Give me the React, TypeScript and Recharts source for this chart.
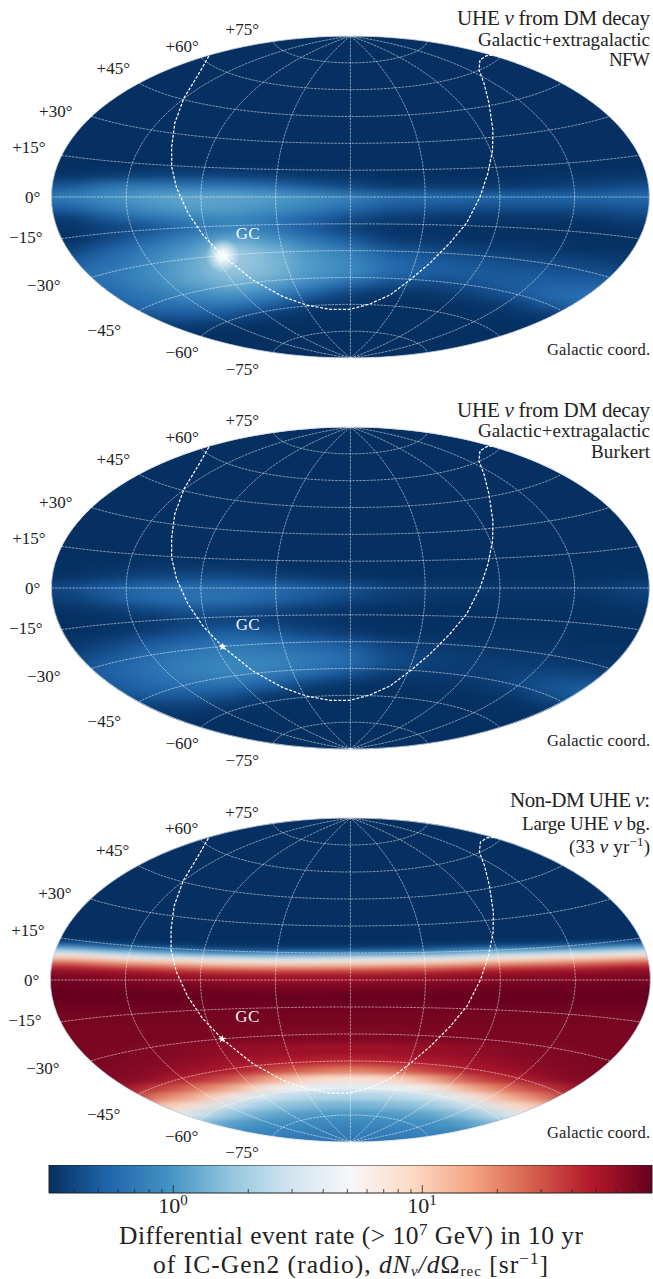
import React from 'react';
import { ScatterChart, Scatter, XAxis, YAxis, ReferenceArea } from 'recharts';

// plane coordinates are degrees of the Aitoff plane: x -180..180, y -90..90
const heatCols = [-192, -168, -144, -120, -96, -72, -48, -24, 0, 24, 48, 72, 96, 120, 144, 168, 192];

const darkRows = [12, 6, 0, -6, -12, -18, -24, -30, -36, -42, -48, -54, -60, -66, -72];

const nfwRows = [
  [.33, .33, .36, .38, .38, .38, .36, .34, .33, .32, .32, .32, .32, .33, .33, .34, .34],
  [.46, .48, .68, .72, .7, .7, .6, .48, .4, .35, .35, .34, .34, .36, .38, .42, .45],
  [.7, .8, .95, 1.12, 1.2, 1.2, 1.1, .95, .8, .62, .6, .58, .56, .56, .56, .6, .6],
  [.5, .55, .75, .98, 1.1, 1.1, .98, .78, .62, .48, .46, .44, .44, .44, .44, .47, .47],
  [.36, .36, .5, .65, .8, .85, .7, .55, .42, .36, .34, .33, .33, .33, .34, .38, .4],
  [.33, .33, .38, .45, .62, .85, .7, .5, .38, .33, .33, .32, .32, .32, .32, .33, .33],
  [.32, .32, .42, .6, .85, 1.3, 1.0, .68, .5, .36, .34, .33, .33, .33, .32, .32, .32],
  [.36, .38, .55, .75, 1.05, 2.0, 1.4, .95, .72, .48, .42, .38, .35, .34, .33, .33, .33],
  [.46, .5, .62, .85, 1.2, 2.0, 1.5, 1.05, .85, .58, .5, .46, .42, .4, .38, .35, .35],
  [.55, .6, .68, .9, 1.25, 1.8, 1.5, 1.05, .88, .6, .52, .5, .48, .46, .44, .4, .4],
  [.55, .6, .65, .85, 1.15, 1.45, 1.2, .9, .62, .45, .42, .46, .5, .52, .52, .5, .5],
  [.5, .5, .58, .72, .9, 1.05, .85, .55, .38, .33, .34, .38, .48, .58, .62, .55, .55],
  [.45, .45, .52, .62, .68, .7, .55, .36, .33, .32, .32, .33, .36, .5, .62, .6, .6],
  [.36, .38, .42, .48, .5, .46, .36, .33, .32, .32, .32, .32, .33, .36, .45, .45, .45],
  [.32, .32, .33, .36, .36, .33, .32, .32, .32, .32, .32, .32, .32, .33, .34, .34, .34],
];

const burkertRows = [
  [.32, .32, .33, .34, .34, .34, .33, .32, .32, .32, .32, .32, .32, .32, .32, .32, .32],
  [.33, .33, .36, .4, .42, .42, .38, .35, .33, .32, .32, .32, .32, .32, .32, .33, .33],
  [.4, .42, .52, .6, .62, .62, .58, .52, .45, .38, .36, .35, .34, .34, .35, .38, .4],
  [.36, .38, .48, .6, .65, .65, .58, .48, .4, .36, .34, .33, .33, .33, .33, .36, .38],
  [.33, .33, .36, .42, .48, .46, .4, .36, .33, .32, .32, .32, .32, .32, .32, .33, .33],
  [.32, .32, .33, .34, .38, .38, .36, .34, .33, .32, .32, .32, .32, .32, .32, .32, .32],
  [.32, .32, .33, .36, .44, .5, .45, .38, .34, .32, .32, .32, .32, .32, .32, .32, .32],
  [.33, .33, .38, .48, .56, .64, .6, .52, .45, .37, .34, .33, .33, .33, .32, .32, .32],
  [.35, .36, .45, .58, .68, .76, .72, .66, .56, .41, .37, .35, .34, .34, .33, .33, .33],
  [.38, .4, .52, .64, .76, .85, .82, .7, .6, .43, .38, .36, .36, .35, .34, .33, .33],
  [.42, .44, .54, .64, .76, .82, .74, .6, .46, .36, .35, .36, .38, .4, .38, .35, .35],
  [.4, .4, .5, .58, .64, .64, .54, .38, .33, .32, .33, .34, .39, .46, .48, .44, .42],
  [.36, .36, .44, .5, .5, .45, .35, .32, .32, .32, .32, .32, .34, .44, .54, .5, .48],
  [.33, .33, .35, .38, .38, .34, .32, .32, .32, .32, .32, .32, .32, .35, .42, .4, .4],
  [.32, .32, .32, .33, .33, .32, .32, .32, .32, .32, .32, .32, .32, .32, .33, .33, .33],
];

const bgLats = [20, 17.5, 15, 12.5, 10, 7.5, 5, 2.5, 0, -5, -10, -15, -20, -30, -40, -45, -50, -55, -60, -65, -70, -75, -80, -85, -90, -95];

const bgRows = [
  [.55, .55, .37, .34, .33, .32, .32, .32, .32, .32, .33, .34, .36, .38, .45, .6, .65],
  [1.4, 1.4, .76, .6, .44, .38, .37, .37, .38, .41, .44, .6, .7, .82, 1.05, 1.55, 1.8],
  [4, 4, 2.3, 1.5, 1, .8, .75, .75, .8, .88, 1, 1.5, 2, 2.7, 3.3, 4.4, 5],
  [9.5, 9.5, 6, 4.4, 3.3, 2.7, 2.3, 2.3, 2.7, 3, 3.3, 4.4, 5.5, 6.5, 8, 10.5, 11.5],
  [21, 21, 14, 10.5, 8, 6.5, 6, 6, 6.5, 7.2, 8, 10.5, 12.5, 15, 18.5, 23, 26],
  [41, 41, 30, 23, 18.5, 15, 14, 14, 15, 17, 18.5, 23, 28, 32, 36, 44, 46],
  [58, 58, 50, 44, 36, 32, 30, 30, 32, 34, 36, 44, 48, 51, 55, 60, 61],
  [68, 68, 63, 60, 55, 51, 50, 50, 51, 53, 55, 60, 62, 64, 66, 69, 70],
  [76, 76, 70, 66, 62, 60, 58, 58, 60, 61, 62, 66, 68, 70, 72, 75, 76],
  [83, 83, 80, 78, 76, 74, 73, 73, 74, 75, 76, 78, 79, 80, 81, 83, 83],
  [83, 83, 83, 83, 83, 83, 83, 83, 83, 83, 83, 83, 83, 83, 83, 83, 83],
  [79, 79, 79, 79, 79, 78, 78, 78, 78, 78, 78, 79, 79, 79, 79, 79, 79],
  [75, 75, 75, 75, 75, 75, 75, 75, 75, 75, 75, 75, 75, 75, 75, 75, 75],
  [72, 72, 72, 72, 72, 72, 70, 70, 70, 70, 71, 72, 72, 72, 72, 72, 72],
  [72, 72, 71, 70, 66, 61, 59, 56, 55, 56, 59, 61, 66, 70, 71, 72, 72],
  [72, 72, 71, 68, 62, 55, 50, 46, 42, 46, 50, 55, 62, 68, 71, 72, 72],
  [71, 71, 70, 65, 56, 50, 36, 26, 21, 26, 36, 50, 56, 65, 70, 71, 71],
  [70, 70, 69, 62, 44, 32, 15, 9, 7.5, 9, 15, 32, 44, 62, 69, 70, 70],
  [68, 68, 66, 40, 26, 15, 5.6, 4.1, 3.5, 4.1, 5.6, 15, 26, 40, 66, 68, 68],
  [67, 67, 62, 24, 15, 6, 2.9, 2.3, 2.1, 2.3, 2.9, 6, 15, 24, 62, 67, 67],
  [65, 65, 55, 12, 8, 3, 1.8, 1.5, 1.35, 1.5, 1.8, 3, 8, 12, 55, 65, 65],
  [62, 62, 45, 7, 3.8, 1.7, 1.2, 1.05, 1, 1.05, 1.2, 1.7, 3.8, 7, 45, 62, 62],
  [58, 58, 30, 4.5, 2, 1.1, .92, .87, .84, .87, .92, 1.1, 2, 4.5, 30, 58, 58],
  [52, 52, 18, 2.9, 1.3, .88, .8, .75, .73, .75, .8, .88, 1.3, 2.9, 18, 52, 52],
  [45, 45, 6.5, 1.8, .95, .76, .72, .69, .68, .69, .72, .76, .95, 1.8, 6.5, 45, 45],
  [45, 45, 6.5, 1.8, .95, .76, .72, .69, .68, .69, .72, .76, .95, 1.8, 6.5, 45, 45],
];

// dashed curve, plane degrees
const horizonX = [-85.2, -90.6, -100.2, -105.7, -107.6, -107.6, -104.6, -97.8, -88.8, -76.9, -58.7, -40.6, -26.4, -12.3, -0.3, 11.7, 23.8, 35.8, 47.9, 59.9, 70, 78, 82.8, 85.6, 85.8, 83.4, 80.4, 77.4, 78, 82, 88.2];
const horizonY = [78.8, 70, 55.3, 41.4, 28.1, 16.9, 5, -8.9, -21.2, -32.8, -46.4, -55.7, -60.4, -62.8, -62.8, -59.8, -54.8, -46.4, -36.9, -25.7, -14.5, 0, 13.4, 26.3, 37.5, 52.5, 63.7, 71, 76.6, 79, 79.4];

const gcPoint = [{ x: -76.9, y: -32.8 }];

const gridLats = [-75, -60, -45, -30, -15, 0, 15, 30, 45, 60, 75];
const gridLons = [-135, -90, -45, 0, 45, 90, 135];

// pixel offset of each tick label from the rim of the map
const latLabels: Record<number, [number, number]> = {
  75: [-14, -6], 60: [-2, -6], 45: [-9, -9], 30: [-19, 0], 15: [-16, -2], 0: [-11, 6],
  [-15]: [-19, 4], [-30]: [-31, 13], [-45]: [-18, 25], [-60]: [-2, 22], [-75]: [-14, 22],
};

const colorStops = ['#053061', '#2166ac', '#4393c3', '#92c5de', '#d1e5f0', '#f7f7f7', '#fddbc7', '#f4a582', '#d6604d', '#b2182b', '#67001f'];
const V_MIN = 0.317;
const V_MAX = 83.6;
const majorTicks = [1, 10];
const minorTicks = [.4, .5, .6, .7, .8, .9, 2, 3, 4, 5, 6, 7, 8, 9, 20, 30, 40, 50, 60, 70, 80];

const FONT = '"Liberation Serif", serif';

function hex(c: string) {
  return [1, 3, 5].map((i) => parseInt(c.slice(i, i + 2), 16));
}

function rateColor(v: number) {
  const t = Math.min(1, Math.max(0, Math.log(v / V_MIN) / Math.log(V_MAX / V_MIN))) * 10;
  const i = Math.min(9, Math.floor(t));
  const a = hex(colorStops[i]);
  const b = hex(colorStops[i + 1]);
  const rgb = a.map((p, k) => Math.round(p + (b[k] - p) * (t - i)));
  return `rgb(${rgb.join(',')})`;
}

function aitoff(lon: number, lat: number) {
  const l = (lon * Math.PI) / 180;
  const p = (lat * Math.PI) / 180;
  const alpha = Math.acos(Math.cos(p) * Math.cos(l / 2));
  const s = alpha < 1e-6 ? 1 : Math.sin(alpha) / alpha;
  return {
    x: ((2 * Math.cos(p) * Math.sin(l / 2)) / s) * (180 / Math.PI),
    y: (Math.sin(p) / s) * (180 / Math.PI),
  };
}

function steps(from: number, to: number, n: number) {
  const out: number[] = [];
  for (let i = 0; i <= n; i++) out.push(from + ((to - from) * i) / n);
  return out;
}

const parallel = (lat: number) => steps(-180, 180, 90).map((lon) => aitoff(lon, lat));
const meridian = (lon: number) => steps(-90, 90, 60).map((lat) => aitoff(lon, lat));
const horizon = horizonX.map((x, i) => ({ x, y: horizonY[i] }));

const GRID_LINE = { stroke: '#fff', strokeOpacity: 0.62, strokeWidth: 0.8, strokeDasharray: '2.6 0.9', fill: 'none' };
const noMark = () => null;

type MapProps = {
  cy: number;
  a: number;
  b: number;
  lats: number[];
  rows: number[][];
  filter: string;
  glow?: boolean;
};

const CX = 350.4;

function HeatMap({ cy, a, b, lats, rows, filter, glow }: MapProps) {
  const top = cy - 200;
  const left = -40;
  const width = 733;
  const height = 400;
  const kx = 180 / a;
  const ky = 90 / b;
  const colEdge = (i: number) => heatCols[i] + 12;
  const rowTop = (j: number) => (j === 0 ? lats[0] + (lats[0] - lats[1]) / 2 : (lats[j] + lats[j - 1]) / 2);
  const rowBot = (j: number) => (j === lats.length - 1 ? lats[j] - (lats[j - 1] - lats[j]) / 2 : (lats[j] + lats[j + 1]) / 2);
  const rim = steps(0, 360, 120).map((t) => (t <= 180 ? aitoff(180, 90 - t) : aitoff(-180, t - 270)));
  const labels = gridLats.map((lat) => ({ ...aitoff(-180, lat), lat }));
  const size = { width: 653, height };
  return (
    <>
      <div style={{ position: 'absolute', left: 0, top: 0, width: 653, height: 1279, background: '#053061', clipPath: `ellipse(${a}px ${b}px at ${CX}px ${cy}px)` }}>
        <div style={{ position: 'absolute', left, top, width, height, filter: `url(#${filter})` }}>
          <ScatterChart width={width} height={height} margin={{ top: 0, right: 0, bottom: 0, left: 0 }}>
            <XAxis type="number" dataKey="x" hide allowDataOverflow domain={[(left - CX) * kx, (left + width - CX) * kx]} />
            <YAxis type="number" dataKey="y" hide allowDataOverflow domain={[-200 * ky, 200 * ky]} />
            {rows.map((row, j) =>
              row.map((v, i) => (
                <ReferenceArea
                  key={`${j}-${i}`}
                  x1={colEdge(i) - 24}
                  x2={colEdge(i)}
                  y1={rowBot(j)}
                  y2={rowTop(j)}
                  fill={rateColor(v)}
                  fillOpacity={1}
                  stroke={rateColor(v)}
                  strokeWidth={0.5}
                  ifOverflow="visible"
                />
              )),
            )}
          </ScatterChart>
        </div>
      </div>
      <div style={{ position: 'absolute', left: 0, top, ...size }}>
        <ScatterChart {...size} margin={{ top: 0, right: 0, bottom: 0, left: 0 }}>
          <defs>
            <radialGradient id="gcGlow">
              <stop offset="0%" stopColor="#fff" stopOpacity={1} />
              <stop offset="30%" stopColor="#fff" stopOpacity={0.8} />
              <stop offset="100%" stopColor="#fff" stopOpacity={0} />
            </radialGradient>
          </defs>
          <XAxis type="number" dataKey="x" hide allowDataOverflow domain={[-CX * kx, (653 - CX) * kx]} />
          <YAxis type="number" dataKey="y" hide allowDataOverflow domain={[-200 * ky, 200 * ky]} />
          {glow && (
            <Scatter data={gcPoint} isAnimationActive={false} shape={(p: any) => <circle cx={p.cx} cy={p.cy} r={17} fill="url(#gcGlow)" />} />
          )}
          <Scatter data={rim} isAnimationActive={false} shape={noMark} line={{ stroke: '#cfd8e6', strokeWidth: 0.8, fill: 'none' }} />
          {gridLats.map((lat) => (
            <Scatter key={`p${lat}`} data={parallel(lat)} isAnimationActive={false} shape={noMark} line={GRID_LINE} />
          ))}
          {gridLons.map((lon) => (
            <Scatter key={`m${lon}`} data={meridian(lon)} isAnimationActive={false} shape={noMark} line={GRID_LINE} />
          ))}
          <Scatter data={horizon} isAnimationActive={false} shape={noMark} line={{ stroke: '#fff', strokeWidth: 1.2, strokeDasharray: '3 1.6', fill: 'none' }} />
          <Scatter
            data={gcPoint}
            isAnimationActive={false}
            shape={(p: any) => (
              <g>
                <path transform={`translate(${p.cx},${p.cy})`} d="M0,-4.2 L1.1,-1.4 4,-1.3 1.7,0.5 2.5,3.4 0,1.7 -2.5,3.4 -1.7,0.5 -4,-1.3 -1.1,-1.4Z" fill="#fff" />
                <text x={p.cx + 13} y={p.cy - 17} fontFamily={FONT} fontSize={17} fill="#f1f4f8" textLength={24}>GC</text>
              </g>
            )}
          />
          <Scatter
            data={labels}
            isAnimationActive={false}
            shape={(p: any) => {
              const [dx, dy] = latLabels[p.payload.lat];
              const lat = p.payload.lat;
              const txt = `${lat > 0 ? '+' : lat < 0 ? '\u2212' : ''}${Math.abs(lat)}\u00b0`;
              return <text x={p.cx + dx} y={p.cy + dy} textAnchor="end" fontFamily={FONT} fontSize={17} fill="#222">{txt}</text>;
            }}
          />
        </ScatterChart>
      </div>
    </>
  );
}

const Nu = () => <tspan fontStyle="italic">{'\u03bd'}</tspan>;

function RightText({ y, size, len, children }: any) {
  return (
    <text x={650} y={y} textAnchor="end" fontFamily={FONT} fontSize={size} fill="#222" textLength={len}>
      {children}
    </text>
  );
}

function ColorTick(props: any) {
  const { x, payload } = props;
  const v = Math.pow(10, payload.value);
  const major = majorTicks.some((m) => Math.abs(m - v) < 1e-6);
  return (
    <g>
      <line x1={x} x2={x} y1={28} y2={major ? 20 : 24} stroke="#222" strokeWidth={0.8} />
      {major && (
        <text x={x - 15} y={48} fontFamily={FONT} fontSize={22} fill="#222">
          10<tspan dy={-8} fontSize={15}>{v < 5 ? '0' : '1'}</tspan>
        </text>
      )}
    </g>
  );
}

function ColorBar() {
  const w = 605;
  const lo = Math.log10(V_MIN);
  const hi = Math.log10(V_MAX);
  return (
    <div style={{ position: 'absolute', left: 48, top: 1165, width: w, height: 60 }}>
      <ScatterChart width={w} height={60} margin={{ top: 0, right: 1, bottom: 0, left: 1 }}>
        <defs>
          <linearGradient id="rdbu" x1="0" x2="1" y1="0" y2="0">
            {colorStops.map((c, i) => (
              <stop key={c} offset={`${i * 10}%`} stopColor={c} />
            ))}
          </linearGradient>
        </defs>
        <XAxis
          type="number"
          dataKey="x"
          allowDataOverflow
          domain={[lo, hi]}
          ticks={[...minorTicks, ...majorTicks].map((t) => Math.log10(t))}
          interval={0}
          height={32}
          axisLine={false}
          tickLine={false}
          tick={ColorTick}
        />
        <YAxis type="number" dataKey="y" hide allowDataOverflow domain={[0, 1]} />
        <ReferenceArea x1={lo} x2={hi} y1={0} y2={1} fill="url(#rdbu)" fillOpacity={1} stroke="#222" strokeWidth={1} ifOverflow="visible" />
      </ScatterChart>
    </div>
  );
}

export default function App() {
  return (
    <div style={{ position: 'absolute', left: 0, top: 0, width: 653, height: 1279, overflow: 'hidden', background: '#fff' }}>
      <svg width={0} height={0} style={{ position: 'absolute' }}>
        <filter id="softA" x="-5%" y="-5%" width="110%" height="110%" colorInterpolationFilters="sRGB">
          <feGaussianBlur stdDeviation="15 4" />
        </filter>
        <filter id="softB" x="-5%" y="-5%" width="110%" height="110%" colorInterpolationFilters="sRGB">
          <feGaussianBlur stdDeviation="20 2.6" />
        </filter>
      </svg>
      <HeatMap cy={197} a={299} b={161} lats={darkRows} rows={nfwRows} filter="softA" glow />
      <HeatMap cy={588.3} a={299} b={161} lats={darkRows} rows={burkertRows} filter="softA" />
      <HeatMap cy={979.7} a={300} b={162} lats={bgLats} rows={bgRows} filter="softB" />
      <ColorBar />
      <svg width={653} height={1279} style={{ position: 'absolute', left: 0, top: 0, pointerEvents: 'none' }}>
        <RightText y={25} size={21} len={193}>UHE <Nu /> from DM decay</RightText>
        <RightText y={46} size={19} len={172}>Galactic+extragalactic</RightText>
        <RightText y={66} size={19} len={41}>NFW</RightText>
        <RightText y={355} size={16.5} len={103}>Galactic coord.</RightText>

        <RightText y={416.7} size={21} len={193}>UHE <Nu /> from DM decay</RightText>
        <RightText y={437} size={19} len={172}>Galactic+extragalactic</RightText>
        <RightText y={458} size={19} len={59}>Burkert</RightText>
        <RightText y={746} size={16.5} len={103}>Galactic coord.</RightText>

        <RightText y={806.7} size={21} len={140}>Non-DM UHE <Nu />:</RightText>
        <RightText y={830} size={19} len={128}>Large UHE <Nu /> bg.</RightText>
        <RightText y={853} size={19} len={81}>
          (33 <Nu /> yr<tspan dy={-7} fontSize={13}>{'\u22121'}</tspan><tspan dy={7}>)</tspan>
        </RightText>
        <RightText y={1138} size={16.5} len={103}>Galactic coord.</RightText>

        <text x={119} y={1244} fontFamily={FONT} fontSize={25.5} fill="#222" textLength={464}>
          Differential event rate ({'>'} 10<tspan dy={-9} fontSize={17}>7</tspan><tspan dy={9}> GeV) in 10 yr</tspan>
        </text>
        <text x={153} y={1273} fontFamily={FONT} fontSize={25.5} fill="#222" textLength={395}>
          of IC-Gen2 (radio), <tspan fontStyle="italic">dN</tspan><tspan fontStyle="italic" dy={2.5} fontSize={15}>{'\u03bd'}</tspan><tspan dy={-2.5} fontStyle="italic">/d</tspan>{'\u03a9'}<tspan dy={2.5} fontSize={15}>rec</tspan><tspan dy={-2.5}> [sr</tspan><tspan dy={-9} fontSize={17}>{'\u22121'}</tspan><tspan dy={9}>]</tspan>
        </text>
      </svg>
    </div>
  );
}
